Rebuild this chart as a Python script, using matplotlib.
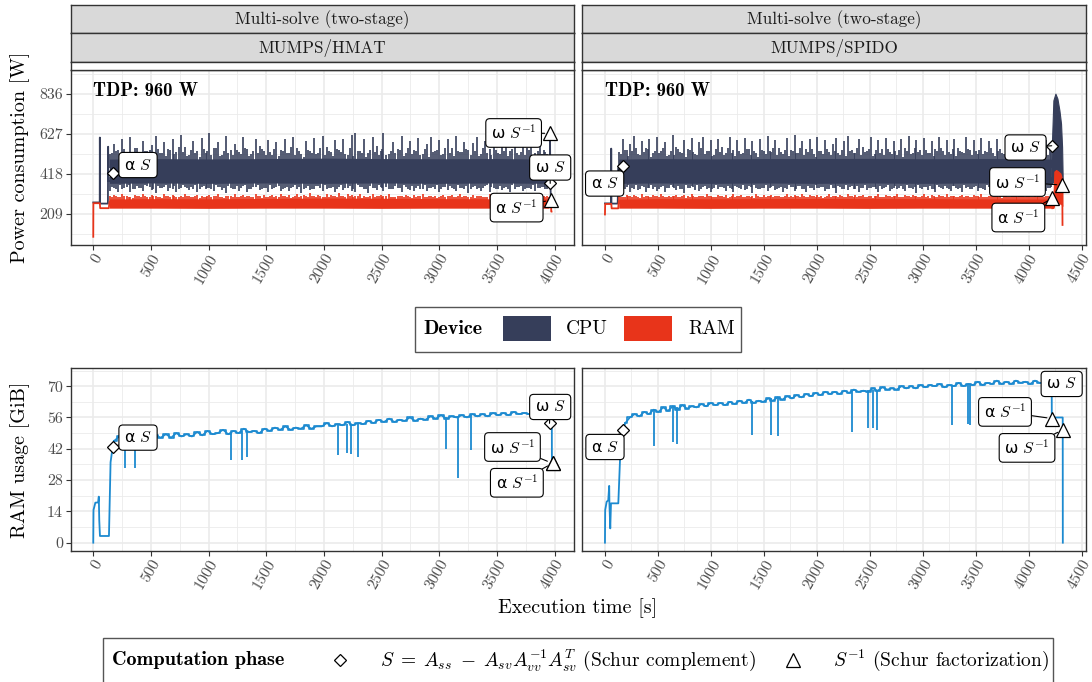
import matplotlib
matplotlib.use('Agg')
import matplotlib.pyplot as plt
from matplotlib.patches import Rectangle
from matplotlib.lines import Line2D

plt.rcParams['mathtext.fontset'] = 'cm'
plt.rcParams['font.family'] = ['cmr10', 'DejaVu Sans']
plt.rcParams['axes.unicode_minus'] = False

# ---------------- data ----------------
strip_top = "Multi-solve (two-stage)"
solvers = ["MUMPS/HMAT", "MUMPS/SPIDO"]
tdp_text = "TDP: 960 W"
x_ticks_left = [0, 500, 1000, 1500, 2000, 2500, 3000, 3500, 4000]
x_ticks_right = [0, 500, 1000, 1500, 2000, 2500, 3000, 3500, 4000, 4500]
power_ticks = [209, 418, 627, 836]
ram_ticks = [0, 14, 28, 42, 56, 70]

# --- HMAT power ---
hm_band_t = [140, 500, 1000, 1500, 2000, 2500, 3000, 3500, 3950]
hm_band_lo = [368, 370, 368, 370, 368, 370, 368, 370, 368]
hm_band_hi = [495, 498, 496, 498, 500, 498, 497, 498, 495]
hm_rband_lo = [238, 238, 237, 238, 238, 237, 238, 238, 238]
hm_rband_hi = [286, 288, 287, 289, 291, 290, 288, 287, 286]
hm_spk_t = [145, 178, 215, 250, 290, 322, 360, 398, 430, 470,
            505, 540, 578, 612, 650, 688, 720, 760, 795, 830,
            868, 902, 940, 975, 1000, 1045, 1080, 1118, 1152, 1190,
            1225, 1262, 1298, 1335, 1370, 1408, 1442, 1480, 1515, 1552,
            1588, 1625, 1660, 1698, 1732, 1770, 1805, 1842, 1878, 1915,
            1950, 1988, 2022, 2060, 2095, 2132, 2168, 2205, 2240, 2270,
            2312, 2350, 2385, 2422, 2458, 2495, 2515, 2565, 2600, 2638,
            2672, 2710, 2745, 2782, 2818, 2855, 2890, 2928, 2962, 3000,
            3035, 3072, 3108, 3145, 3180, 3218, 3252, 3290, 3325, 3362,
            3398, 3435, 3470, 3508, 3542, 3580, 3615, 3652, 3688, 3725,
            3760, 3798, 3832, 3870, 3905, 3935]
hm_cpu_pk = [520, 575, 545, 600, 530, 612, 555, 520, 590, 540,
             570, 615, 525, 585, 548, 600, 532, 620, 560, 515,
             590, 540, 605, 528, 632, 555, 585, 518, 615, 545,
             575, 530, 610, 550, 522, 600, 565, 535, 595, 515,
             585, 545, 600, 528, 610, 555, 520, 590, 540, 605,
             525, 615, 560, 530, 595, 545, 600, 518, 620, 632,
             540, 600, 525, 610, 565, 535, 630, 520, 585, 550,
             615, 528, 590, 545, 605, 520, 575, 612, 538, 595,
             522, 600, 555, 615, 530, 585, 545, 578, 610, 520,
             590, 548, 605, 525, 570, 600, 535, 612, 518, 590,
             555, 600, 528, 590, 545, 520]
hm_cpu_dp = [330, 345, 325, 340, 350, 322, 338, 345, 330, 352,
             335, 320, 342, 348, 330, 338, 325, 345, 350, 332,
             340, 322, 348, 336, 342, 328, 350, 335, 320, 345,
             338, 330, 352, 325, 340, 348, 332, 345, 322, 338,
             350, 330, 342, 326, 348, 336, 320, 345, 332, 340,
             352, 328, 338, 345, 322, 350, 335, 342, 330, 325,
             348, 338, 320, 345, 332, 350, 328, 340, 336, 345,
             322, 348, 335, 330, 352, 340, 326, 345, 338, 322,
             350, 332, 342, 328, 345, 336, 320, 348, 340, 330,
             352, 325, 345, 338, 332, 348, 322, 340, 350, 330,
             345, 336, 328, 342, 350, 340]
hm_ram_pk = [300, 305, 298, 310, 302, 296, 308, 300, 312, 298,
             305, 302, 296, 310, 300, 306, 298, 304, 312, 300,
             296, 308, 302, 298, 306, 300, 310, 297, 304, 300,
             312, 298, 306, 302, 296, 310, 300, 305, 298, 308,
             302, 314, 300, 306, 298, 310, 304, 300, 315, 302,
             308, 298, 312, 305, 300, 316, 302, 310, 306, 300,
             314, 304, 298, 310, 302, 306, 300, 312, 298, 304,
             300, 308, 296, 305, 300, 310, 298, 304, 302, 296,
             308, 300, 305, 298, 310, 302, 296, 306, 300, 304,
             298, 310, 302, 300, 306, 296, 304, 300, 308, 298,
             302, 300, 305, 298, 302, 300]
hm_spk2_t = [160, 196, 232, 270, 306, 341, 379, 414, 450, 488,
             522, 559, 595, 631, 669, 704, 740, 778, 812, 849,
             885, 921, 957, 988, 1022, 1062, 1099, 1135, 1171, 1207,
             1243, 1280, 1316, 1352, 1389, 1425, 1461, 1497, 1533, 1570,
             1606, 1642, 1679, 1715, 1751, 1787, 1823, 1860, 1896, 1932,
             1969, 2005, 2041, 2077, 2113, 2150, 2186, 2222, 2255, 2291,
             2331, 2367, 2403, 2440, 2476, 2505, 2540, 2582, 2619, 2655,
             2691, 2727, 2763, 2800, 2836, 2872, 2909, 2945, 2981, 3017,
             3053, 3090, 3126, 3162, 3199, 3235, 3271, 3307, 3343, 3380,
             3416, 3452, 3489, 3525, 3561, 3597, 3633, 3670, 3706, 3742,
             3779, 3815, 3851, 3887, 3920, 3948]
hm_cpu_pk2 = [525, 540, 512, 548, 530, 518, 555, 508, 535, 545,
              515, 550, 528, 510, 542, 520, 558, 532, 512, 545,
              525, 505, 548, 535, 518, 552, 510, 540, 528, 515,
              545, 522, 555, 510, 538, 526, 548, 515, 532, 550,
              512, 540, 525, 558, 518, 535, 508, 545, 528, 520,
              552, 515, 538, 510, 548, 530, 522, 555, 512, 540,
              525, 508, 545, 532, 518, 550, 515, 538, 528, 545,
              510, 552, 522, 535, 518, 548, 505, 530, 542, 515,
              555, 525, 512, 540, 530, 548, 518, 535, 510, 552,
              528, 515, 545, 520, 538, 512, 550, 525, 532, 518,
              545, 510, 538, 522, 530, 515]
hm_cpu_dp2 = [350, 340, 358, 345, 362, 338, 352, 344, 360, 348,
              336, 355, 342, 362, 346, 352, 338, 358, 344, 350,
              362, 340, 354, 346, 338, 360, 348, 342, 356, 336,
              352, 344, 360, 340, 350, 358, 338, 346, 362, 342,
              354, 336, 350, 344, 360, 348, 340, 356, 338, 352,
              346, 362, 342, 350, 336, 358, 344, 352, 340, 360,
              348, 338, 356, 342, 362, 346, 350, 336, 354, 344,
              360, 340, 352, 346, 338, 358, 342, 350, 362, 336,
              348, 354, 340, 360, 344, 352, 338, 356, 346, 342,
              362, 350, 336, 354, 344, 340, 358, 348, 352, 338,
              346, 360, 342, 350, 338, 355]
hm_ram_pk2 = [296, 300, 294, 302, 298, 292, 304, 297, 300, 295,
              302, 298, 293, 300, 296, 304, 294, 299, 302, 296,
              300, 293, 298, 304, 295, 301, 297, 292, 303, 299,
              296, 302, 294, 300, 297, 304, 293, 299, 301, 295,
              298, 303, 296, 292, 301, 298, 305, 294, 300, 297,
              303, 295, 299, 302, 294, 300, 298, 304, 296, 301,
              293, 299, 302, 295, 300, 297, 303, 294, 298, 301,
              296, 304, 293, 299, 302, 295, 300, 297, 292, 303,
              298, 301, 294, 300, 296, 304, 297, 293, 301, 299,
              295, 302, 298, 294, 300, 296, 303, 297, 299, 295,
              301, 298, 294, 300, 296, 298]
hm_cpu_start_t = [0, 56, 57, 59, 127, 129, 131, 140]
hm_cpu_start_v = [268, 268, 608, 262, 262, 560, 380, 380]
hm_ram_start_t = [0, 1, 57, 60, 135, 140]
hm_ram_start_v = [88, 264, 264, 238, 238, 270]
hm_cpu_end_t = [3945, 3958, 3959, 3963, 3966]
hm_cpu_end_v = [420, 420, 630, 368, 300]
hm_ram_end_t = [3950, 3968, 3970, 3972]
hm_ram_end_v = [270, 275, 220, 220]

# --- SPIDO power ---
sp_band_t = [130, 500, 1000, 1500, 2000, 2500, 3000, 3500, 4000, 4215]
sp_band_lo = [368, 370, 368, 370, 368, 370, 368, 370, 368, 368]
sp_band_hi = [495, 498, 496, 498, 498, 499, 497, 498, 498, 495]
sp_rband_lo = [238, 238, 237, 238, 238, 237, 238, 238, 238, 238]
sp_rband_hi = [285, 288, 287, 288, 289, 288, 288, 287, 286, 286]
sp_spk_t = [135, 170, 205, 240, 278, 312, 350, 385, 420, 458,
            492, 530, 565, 600, 638, 672, 710, 745, 780, 818,
            852, 890, 925, 960, 998, 1032, 1070, 1105, 1140, 1178,
            1212, 1250, 1285, 1320, 1358, 1392, 1430, 1465, 1500, 1538,
            1572, 1610, 1645, 1680, 1718, 1752, 1790, 1825, 1860, 1898,
            1932, 1970, 2005, 2040, 2078, 2112, 2150, 2185, 2220, 2258,
            2292, 2330, 2365, 2400, 2438, 2472, 2510, 2545, 2580, 2618,
            2652, 2690, 2725, 2760, 2798, 2832, 2870, 2905, 2940, 2978,
            3012, 3050, 3085, 3120, 3158, 3192, 3230, 3265, 3300, 3338,
            3372, 3410, 3445, 3480, 3518, 3552, 3590, 3625, 3660, 3698,
            3732, 3770, 3805, 3840, 3878, 3912, 3950, 3985, 4020, 4058,
            4092, 4130, 4165, 4200]
sp_cpu_pk = [530, 600, 545, 575, 615, 520, 590, 555, 600, 528,
             610, 540, 585, 518, 620, 560, 532, 595, 548, 605,
             522, 585, 610, 538, 595, 515, 600, 560, 528, 612,
             545, 595, 520, 605, 550, 590, 525, 600, 540, 615,
             530, 595, 555, 520, 605, 545, 620, 528, 590, 550,
             600, 522, 610, 540, 595, 530, 575, 605, 518, 590,
             615, 545, 525, 600, 560, 535, 610, 520, 595, 548,
             605, 530, 590, 515, 600, 555, 615, 528, 595, 542,
             605, 525, 590, 550, 610, 535, 595, 520, 600, 555,
             532, 612, 545, 595, 520, 605, 540, 590, 528, 600,
             550, 522, 595, 540, 605, 530, 590, 548, 600, 525,
             585, 540, 595, 560]
sp_cpu_dp = [345, 330, 350, 325, 340, 335, 352, 322, 345, 338,
             330, 348, 325, 342, 350, 332, 338, 320, 345, 352,
             335, 328, 348, 340, 322, 345, 336, 350, 330, 342,
             325, 348, 338, 332, 352, 320, 345, 336, 342, 328,
             350, 335, 345, 322, 340, 348, 330, 352, 338, 325,
             345, 332, 342, 350, 328, 336, 345, 320, 348, 340,
             332, 352, 338, 325, 345, 335, 342, 350, 322, 340,
             348, 330, 345, 336, 352, 328, 342, 338, 320, 345,
             350, 332, 340, 325, 348, 336, 345, 330, 352, 338,
             322, 345, 340, 350, 328, 342, 335, 348, 325, 340,
             352, 332, 345, 338, 322, 350, 336, 342, 330, 345,
             338, 350, 328, 342]
sp_ram_pk = [302, 298, 308, 300, 305, 296, 310, 302, 298, 306,
             300, 312, 298, 304, 300, 308, 296, 305, 302, 310,
             298, 304, 300, 312, 302, 296, 308, 300, 305, 298,
             310, 302, 306, 298, 304, 300, 312, 296, 306, 302,
             308, 300, 304, 298, 310, 302, 306, 300, 312, 298,
             305, 300, 308, 302, 296, 310, 304, 300, 306, 298,
             312, 302, 305, 300, 308, 296, 304, 302, 310, 298,
             306, 300, 304, 312, 298, 305, 300, 308, 302, 296,
             310, 300, 305, 298, 306, 302, 312, 300, 304, 298,
             308, 302, 296, 305, 300, 310, 298, 304, 302, 308,
             300, 306, 298, 312, 302, 305, 300, 308, 296, 304,
             300, 306, 302, 298]
sp_spk2_t = [152, 188, 222, 259, 295, 331, 367, 402, 439, 475,
             511, 548, 583, 619, 655, 691, 728, 763, 799, 835,
             871, 908, 943, 979, 1015, 1051, 1088, 1123, 1159, 1195,
             1231, 1268, 1303, 1339, 1375, 1411, 1448, 1483, 1519, 1555,
             1591, 1628, 1663, 1699, 1735, 1771, 1808, 1843, 1879, 1915,
             1951, 1988, 2023, 2059, 2095, 2131, 2168, 2203, 2239, 2275,
             2311, 2348, 2383, 2419, 2455, 2491, 2528, 2563, 2599, 2635,
             2671, 2708, 2743, 2779, 2815, 2851, 2888, 2923, 2959, 2995,
             3031, 3068, 3103, 3139, 3175, 3211, 3248, 3283, 3319, 3355,
             3391, 3428, 3463, 3499, 3535, 3571, 3608, 3643, 3679, 3715,
             3751, 3788, 3823, 3859, 3895, 3931, 3968, 4003, 4039, 4075,
             4111, 4148, 4183, 4208]
sp_cpu_pk2 = [520, 545, 510, 538, 552, 515, 530, 548, 508, 540,
              525, 555, 512, 535, 518, 550, 528, 505, 545, 532,
              515, 552, 522, 540, 510, 548, 530, 518, 555, 525,
              512, 540, 528, 550, 515, 535, 505, 545, 522, 538,
              552, 518, 530, 545, 510, 540, 525, 555, 515, 532,
              548, 508, 538, 522, 550, 515, 535, 528, 545, 512,
              540, 525, 555, 518, 532, 548, 510, 542, 528, 515,
              550, 522, 535, 545, 508, 538, 520, 552, 530, 515,
              545, 528, 512, 540, 555, 518, 532, 548, 510, 538,
              525, 550, 515, 535, 545, 520, 530, 555, 512, 540,
              528, 545, 518, 535, 550, 510, 538, 525, 545, 520,
              532, 548, 515, 530]
sp_cpu_dp2 = [352, 340, 358, 345, 362, 338, 350, 344, 360, 348,
              336, 355, 342, 362, 346, 352, 338, 358, 344, 350,
              362, 340, 354, 346, 338, 360, 348, 342, 356, 336,
              352, 344, 360, 340, 350, 358, 338, 346, 362, 342,
              354, 336, 350, 344, 360, 348, 340, 356, 338, 352,
              346, 362, 342, 350, 336, 358, 344, 352, 340, 360,
              348, 338, 356, 342, 362, 346, 350, 336, 354, 344,
              360, 340, 352, 346, 338, 358, 342, 350, 362, 336,
              348, 354, 340, 360, 344, 352, 338, 356, 346, 342,
              362, 350, 336, 354, 344, 340, 358, 348, 352, 338,
              346, 360, 342, 350, 338, 355, 344, 358, 340, 352,
              346, 360, 342, 350]
sp_ram_pk2 = [298, 294, 301, 296, 303, 293, 299, 302, 295, 300,
              297, 304, 294, 299, 301, 296, 303, 293, 298, 302,
              295, 300, 297, 304, 294, 299, 301, 296, 292, 303,
              298, 300, 295, 302, 297, 293, 304, 299, 296, 301,
              294, 300, 298, 303, 295, 299, 302, 296, 300, 294,
              304, 297, 299, 293, 301, 298, 303, 295, 300, 296,
              302, 294, 299, 301, 297, 304, 293, 300, 298, 295,
              303, 296, 301, 294, 299, 302, 297, 300, 295, 304,
              298, 293, 301, 296, 303, 299, 294, 300, 297, 302,
              295, 301, 298, 304, 294, 299, 296, 303, 300, 297,
              293, 301, 298, 302, 295, 300, 297, 304, 294, 299,
              301, 296, 300, 298]
sp_cpu_start_t = [0, 58, 59, 61, 120, 128, 130]
sp_cpu_start_v = [263, 263, 550, 262, 262, 450, 380]
sp_ram_start_t = [0, 2, 60, 63, 125, 130]
sp_ram_start_v = [205, 260, 260, 237, 237, 270]
sp_peak_t = [4215, 4221, 4234, 4253, 4272, 4291, 4306, 4316, 4322]
sp_peak_hi = [480, 594, 803, 838, 812, 750, 681, 559, 386]
sp_peak_lo = [365, 365, 380, 400, 400, 400, 390, 380, 370]
sp_rpeak_t = [4215, 4235, 4243, 4260, 4280, 4300, 4310, 4318]
sp_rpeak_hi = [290, 300, 430, 438, 430, 420, 400, 380]
sp_rpeak_lo = [238, 240, 260, 262, 262, 262, 260, 250]
sp_rtail_t = [4318, 4320]
sp_rtail_v = [330, 150]

# --- HMAT RAM usage ---
hm_mem_start_t = [0, 2, 18, 42, 48, 52, 58, 136, 150, 168, 180]
hm_mem_start_v = [0, 14.6, 17.9, 18, 20.6, 10, 3, 3, 36, 42.7, 45.5]
hm_mem_t = [180, 225, 270, 315, 360, 405, 450, 495, 540, 585,
            630, 675, 720, 765, 810, 855, 900, 945, 990, 1035,
            1080, 1125, 1170, 1215, 1260, 1305, 1350, 1395, 1440, 1485,
            1530, 1575, 1620, 1665, 1710, 1755, 1800, 1845, 1890, 1935,
            1980, 2025, 2070, 2115, 2160, 2205, 2250, 2295, 2340, 2385,
            2430, 2475, 2520, 2565, 2610, 2655, 2700, 2745, 2790, 2835,
            2880, 2925, 2970, 3015, 3060, 3105, 3150, 3195, 3240, 3285,
            3330, 3375, 3420, 3465, 3510, 3555, 3600, 3645, 3690, 3735,
            3780, 3825, 3870, 3915, 3940]
hm_mem_v = [45.5, 47.5, 46, 48, 46.5, 47.5, 50.5, 46.5, 48, 47,
            48.5, 47, 49, 47.5, 48.5, 47.5, 49.5, 48, 50, 48.5,
            49, 50.5, 48.5, 50, 49, 51, 49.5, 50, 49, 51,
            50, 51.5, 50.5, 52, 50.5, 51.5, 51, 52.5, 51, 52,
            52, 53.5, 52, 53, 52.5, 54, 52.5, 53.5, 53, 54.5,
            53.5, 55, 54, 55.5, 54, 55, 54.5, 56, 54.5, 55.5,
            55, 56.5, 55.5, 57, 55.5, 56.5, 56, 57, 56, 57.5,
            56.5, 57.5, 56.5, 58, 57, 58, 57, 58.5, 57.5, 58,
            57.5, 58.5, 57.5, 58.5, 58]
hm_mem_end_t = [3940, 3955, 3975, 3976]
hm_mem_end_v = [58, 53.4, 53.4, 35.5]
hm_dip_t = [275, 362, 1192, 1287, 1330, 2119, 2198, 2236, 2294, 3056, 3160, 3273]
hm_dip_top = [47, 47, 49.5, 50, 50, 53, 53, 53, 53.5, 56, 56.5, 57]
hm_dip_bot = [33.3, 33.3, 37, 37.1, 38.3, 39.2, 40.1, 39.8, 38.3, 41.8, 28.8, 41.3]

# --- SPIDO RAM usage ---
sp_mem_start_t = [0, 2, 16, 31, 40, 42, 50, 57, 126, 142, 157, 173, 190]
sp_mem_start_v = [0, 14.6, 18.3, 19, 25.4, 17.6, 6.4, 17.6, 17.6, 37, 43, 50.4, 53.4]
sp_mem_t = [190, 235, 280, 325, 370, 415, 460, 505, 550, 595,
            640, 685, 730, 775, 820, 865, 910, 955, 1000, 1045,
            1090, 1135, 1180, 1225, 1270, 1315, 1360, 1405, 1450, 1495,
            1540, 1585, 1630, 1675, 1720, 1765, 1810, 1855, 1900, 1945,
            1990, 2035, 2080, 2125, 2170, 2215, 2260, 2305, 2350, 2395,
            2440, 2485, 2530, 2575, 2620, 2665, 2710, 2755, 2800, 2845,
            2890, 2935, 2980, 3025, 3070, 3115, 3160, 3205, 3250, 3295,
            3340, 3385, 3430, 3475, 3520, 3565, 3610, 3655, 3700, 3745,
            3790, 3835, 3880, 3925, 3970, 4015, 4060, 4105, 4150, 4195,
            4215]
sp_mem_v = [53.4, 56, 57.5, 56.5, 58.5, 57.5, 59.5, 58.5, 60.5, 59,
            61, 59.5, 61.5, 60, 61, 60.5, 62, 61, 62.5, 61.5,
            62.5, 61.5, 63, 62, 63.5, 62.5, 64, 62.5, 63.5, 63,
            64.5, 63.5, 65, 64, 65.5, 64.5, 66, 65, 66.5, 65.5,
            67, 66, 67.5, 66.5, 67.5, 66.5, 68, 67, 68.5, 67.5,
            68, 67.5, 69, 68, 69.5, 68.5, 69, 68.5, 70, 69,
            70, 69, 70.5, 69.5, 70.5, 70, 71, 69.5, 70.5, 70,
            71.5, 70, 71, 70.5, 72, 70.5, 71.5, 71, 72.5, 71,
            72, 71, 72.5, 71.5, 72, 71, 72.5, 71.5, 71.5, 71,
            71]
sp_mem_end_t = [4215, 4218, 4219, 4322, 4323]
sp_mem_end_v = [71, 71, 56, 56, 0]
sp_dip_t = [463, 645, 676, 1385, 1565, 1631, 2329, 2487, 2528, 2566, 3280, 3425, 3447]
sp_dip_top = [59, 60.5, 60.5, 63.5, 64.5, 65, 68, 68.5, 68.5, 68.5, 70.5, 71, 71]
sp_dip_bot = [43.4, 45.2, 44.3, 48.2, 48.2, 47.7, 49.6, 51.1, 51.1, 50.6, 52.6, 53.1, 52.6]

# --- computation phase points ---
phase_labels = ["α $S$", "ω $S$", "α $S^{-1}$", "ω $S^{-1}$"]
phase_markers = ["D", "D", "^", "^"]
hm_pw_phase_t = [168, 3961, 3967, 3961]
hm_pw_phase_v = [421, 368, 281, 630]
sp_pw_phase_t = [173, 4218, 4224, 4318]
sp_pw_phase_v = [460, 565, 290, 359]
hm_mem_phase_t = [168, 3955, 3981, 3981]
hm_mem_phase_v = [42.7, 53.4, 35.5, 35.5]
sp_mem_phase_t = [173, 4221, 4225, 4322]
sp_mem_phase_v = [50.4, 70.7, 55.5, 50.5]

# ---------------- styling ----------------
CPU_C = '#363E5A'
RAM_C = '#E8341A'
MEM_C = '#1C8AD0'
GRID = '#EBEBEB'
W, H = 1092, 682

fig = plt.figure(figsize=(W / 100, H / 100), dpi=100)


def add_ax(x0, y0, x1, y1):
    return fig.add_axes([x0 / W, 1 - y1 / H, (x1 - x0) / W, (y1 - y0) / H])


def style(ax, xlim, xt, ylim, yt, ylabels):
    ax.set_xlim(xlim)
    ax.set_ylim(ylim)
    ax.set_xticks(xt)
    ax.set_xticks([a + 250 for a in xt[:-1]], minor=True)
    ax.set_yticks(yt)
    step = yt[1] - yt[0]
    ymin = [v - step / 2 for v in yt] + [yt[-1] + step / 2]
    ax.set_yticks([v for v in ymin if ylim[0] < v < ylim[1]], minor=True)
    ax.grid(True, which='major', color=GRID, lw=1.2)
    ax.grid(True, which='minor', color=GRID, lw=0.6)
    ax.set_axisbelow(True)
    for s in ax.spines.values():
        s.set_color('#333333')
        s.set_linewidth(1.0)
    ax.tick_params(which='major', length=3.7, width=0.8, color='#333333',
                   labelcolor='#4D4D4D', labelsize=11.5, pad=2)
    ax.tick_params(axis='x', which='major', pad=1)
    ax.tick_params(which='minor', length=0)
    ax.set_xticklabels([str(v) for v in xt], rotation=60, ha='right',
                       va='top', rotation_mode='anchor')
    if ylabels:
        ax.set_yticklabels([str(v) for v in yt])
    else:
        ax.set_yticklabels([])
        ax.tick_params(axis='y', length=0)


def strip(x0, x1, y0, y1, text, fc='#D9D9D9'):
    a = add_ax(x0, y0, x1, y1)
    a.set_facecolor(fc)
    a.set_xticks([])
    a.set_yticks([])
    for s in a.spines.values():
        s.set_color('#333333')
        s.set_linewidth(1.0)
    if text:
        a.text(0.5, 0.47, text, ha='center', va='center', fontsize=12.3,
               color='#1A1A1A', transform=a.transAxes)


def power_panel(ax, band_t, band_lo, band_hi, rlo, rhi, spk_sets,
                cs_t, cs_v, rs_t, rs_v):
    ax.fill_between(band_t, band_lo, band_hi, color=CPU_C, lw=0, zorder=2)
    for st, cpk, cdp, rpk in spk_sets:
        ax.vlines(st, 450, cpk, color=CPU_C, lw=1.2, zorder=2)
        ax.vlines(st, cdp, 400, color=CPU_C, lw=1.2, zorder=2)
    ax.plot(cs_t, cs_v, color=CPU_C, lw=1.3, zorder=2)
    ax.fill_between(band_t, rlo, rhi, color=RAM_C, lw=0, zorder=3)
    for st, cpk, cdp, rpk in spk_sets:
        ax.vlines(st, 262, rpk, color=RAM_C, lw=1.2, zorder=3)
    ax.plot(rs_t, rs_v, color=RAM_C, lw=1.3, zorder=3)


def phases(ax, ts, vs):
    for m, t, v in zip(phase_markers, ts, vs):
        ax.plot([t], [v], marker=m, ms=(6.5 if m == 'D' else 9.5), mfc='white',
                mec='black', mew=0.9, ls='none', zorder=6, clip_on=False)


def labels(ax, ts, vs, pos):
    for lab, t, v, p in zip(phase_labels, ts, vs, pos):
        ax.annotate(lab, xy=(t, v), xytext=p, textcoords='data', ha='center',
                    va='center', fontsize=11.5, family='DejaVu Sans', zorder=10,
                    bbox=dict(boxstyle='round,pad=0.32,rounding_size=0.25',
                              fc='white', ec='black', lw=0.8),
                    arrowprops=dict(arrowstyle='-', color='black', lw=0.8,
                                    shrinkA=0, shrinkB=4),
                    annotation_clip=False)


axL = add_ax(71, 70, 573.5, 245)
axR = add_ax(582.3, 70, 1085.7, 245)
bxL = add_ax(71, 368.3, 573.5, 550.7)
bxR = add_ax(582.3, 368.3, 1085.7, 550.7)

PW_LIM = (45, 962)
MEM_LIM = (-3.58, 78.0)
style(axL, (-193, 4163), x_ticks_left, PW_LIM, power_ticks, True)
style(axR, (-214, 4539), x_ticks_right, PW_LIM, power_ticks, False)
style(bxL, (-193, 4163), x_ticks_left, MEM_LIM, ram_ticks, True)
style(bxR, (-214, 4539), x_ticks_right, MEM_LIM, ram_ticks, False)

for (x0, x1), name in zip([(71, 573.5), (582.3, 1085.7)], solvers):
    strip(x0, x1, 4.7, 33.3, strip_top)
    strip(x0, x1, 33.3, 61.7, name)
    strip(x0, x1, 61.7, 70, '', fc='white')

power_panel(axL, hm_band_t, hm_band_lo, hm_band_hi, hm_rband_lo, hm_rband_hi,
            [(hm_spk_t, hm_cpu_pk, hm_cpu_dp, hm_ram_pk),
             (hm_spk2_t, hm_cpu_pk2, hm_cpu_dp2, hm_ram_pk2)],
            hm_cpu_start_t, hm_cpu_start_v, hm_ram_start_t, hm_ram_start_v)
axL.plot(hm_cpu_end_t, hm_cpu_end_v, color=CPU_C, lw=1.3, zorder=2)
axL.plot(hm_ram_end_t, hm_ram_end_v, color=RAM_C, lw=1.3, zorder=3)

power_panel(axR, sp_band_t, sp_band_lo, sp_band_hi, sp_rband_lo, sp_rband_hi,
            [(sp_spk_t, sp_cpu_pk, sp_cpu_dp, sp_ram_pk),
             (sp_spk2_t, sp_cpu_pk2, sp_cpu_dp2, sp_ram_pk2)],
            sp_cpu_start_t, sp_cpu_start_v, sp_ram_start_t, sp_ram_start_v)
axR.fill_between(sp_peak_t, sp_peak_lo, sp_peak_hi, color=CPU_C, lw=0.8,
                 edgecolor=CPU_C, zorder=2)
axR.fill_between(sp_rpeak_t, sp_rpeak_lo, sp_rpeak_hi, color=RAM_C, lw=0.8,
                 edgecolor=RAM_C, zorder=3)
axR.plot(sp_rtail_t, sp_rtail_v, color=RAM_C, lw=1.3, zorder=3)

for ax in (axL, axR):
    ax.text(0, 852, tdp_text, family='cmb10', fontsize=13.5, ha='left',
            va='center', zorder=7)

for ax, st, sv, mt, mv, et, ev, dt, dtop, dbot in [
        (bxL, hm_mem_start_t, hm_mem_start_v, hm_mem_t, hm_mem_v, hm_mem_end_t,
         hm_mem_end_v, hm_dip_t, hm_dip_top, hm_dip_bot),
        (bxR, sp_mem_start_t, sp_mem_start_v, sp_mem_t, sp_mem_v, sp_mem_end_t,
         sp_mem_end_v, sp_dip_t, sp_dip_top, sp_dip_bot)]:
    ax.plot(st, sv, color=MEM_C, lw=1.3, zorder=3)
    ax.plot(mt, mv, color=MEM_C, lw=1.2, zorder=3)
    ax.plot(mt, mv, color=MEM_C, lw=1.2, drawstyle='steps-mid', zorder=3)
    ax.plot(et, ev, color=MEM_C, lw=1.3, zorder=3)
    ax.vlines(dt, dbot, dtop, color=MEM_C, lw=1.3, zorder=3)

phases(axL, hm_pw_phase_t, hm_pw_phase_v)
labels(axL, hm_pw_phase_t, hm_pw_phase_v,
       [(388, 464), (3961, 451), (3670, 241), (3644, 632)])
phases(axR, sp_pw_phase_t, sp_pw_phase_v)
labels(axR, sp_pw_phase_t, sp_pw_phase_v,
       [(-3, 367), (3971, 556), (3903, 189), (3895, 375)])
phases(bxL, hm_mem_phase_t, hm_mem_phase_v)
labels(bxL, hm_mem_phase_t, hm_mem_phase_v,
       [(388, 47), (3961, 60.7), (3672, 26.8), (3634, 42.8)])
phases(bxR, sp_mem_phase_t, sp_mem_phase_v)
labels(bxR, sp_mem_phase_t, sp_mem_phase_v,
       [(0, 42.8), (4312, 71), (3777, 58.5), (3985, 42.4)])

fig.text(20 / W, 1 - 157.5 / H, "Power consumption [W]", rotation=90,
         ha='center', va='center', fontsize=14.5, color='black')
fig.text(20 / W, 1 - 459.5 / H, "RAM usage [GiB]", rotation=90,
         ha='center', va='center', fontsize=14.5, color='black')
fig.text(578 / W, 1 - 608 / H, "Execution time [s]", ha='center',
         va='center', fontsize=14.5, color='black')

# legend 1: Device
fig.patches.append(Rectangle((415 / W, 1 - 352 / H), 326 / W, 45 / H,
                             transform=fig.transFigure, fill=False,
                             ec='#555555', lw=1.0))
ly = 1 - 329 / H
fig.text(423 / W, ly, "Device", family='cmb10', fontsize=14.5, va='center')
fig.patches.append(Rectangle((503 / W, 1 - 341 / H), 48 / W, 25 / H,
                             transform=fig.transFigure, fc=CPU_C, ec='none'))
fig.text(566 / W, ly, "CPU", fontsize=14, va='center')
fig.patches.append(Rectangle((624 / W, 1 - 341 / H), 48 / W, 25 / H,
                             transform=fig.transFigure, fc=RAM_C, ec='none'))
fig.text(688 / W, ly, "RAM", fontsize=14, va='center')

# legend 2: Computation phase
fig.patches.append(Rectangle((103 / W, 1 - 700 / H), 950 / W, 62 / H,
                             transform=fig.transFigure, fill=False,
                             ec='#555555', lw=1.0))
ly2 = 1 - 660 / H
fig.text(112 / W, ly2, "Computation phase", family='cmb10', fontsize=14.5,
         va='center')
fig.lines.append(Line2D([340 / W], [ly2], transform=fig.transFigure,
                        marker='D', ms=6.5, mfc='white', mec='black', mew=0.9))
fig.text(380 / W, ly2,
         r"$S\;=\;A_{ss}\;-\;A_{sv}A_{vv}^{-1}A_{sv}^{T}$ (Schur complement)",
         fontsize=14, va='center')
fig.lines.append(Line2D([793 / W], [ly2], transform=fig.transFigure,
                        marker='^', ms=9.5, mfc='white', mec='black', mew=0.9))
fig.text(833 / W, ly2, r"$S^{-1}$ (Schur factorization)", fontsize=14,
         va='center')

fig.savefig('out.png', dpi=100)
